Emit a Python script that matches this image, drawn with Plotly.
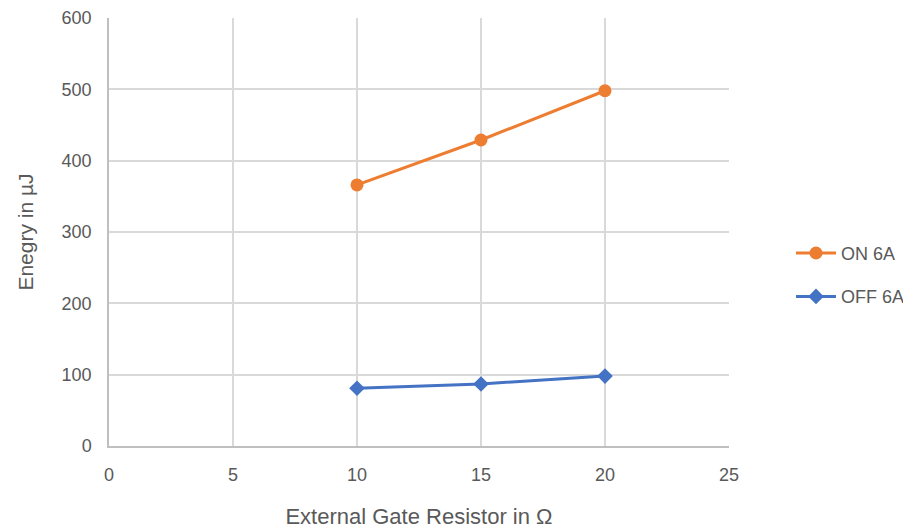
import plotly.graph_objects as go

resistor = [10, 15, 20]
on_6a = [366, 429, 498]
off_6a = [81, 87, 98]

fig = go.Figure()
fig.add_trace(go.Scatter(x=resistor, y=on_6a, name="ON 6A", mode="lines+markers",
                         legendgroup="on",
                         line=dict(color="#ED7D31", width=3),
                         marker=dict(symbol="circle", size=13, color="#ED7D31")))
fig.add_trace(go.Scatter(x=resistor, y=off_6a, name="OFF 6A", mode="lines+markers",
                         legendgroup="off",
                         line=dict(color="#4472C4", width=3),
                         marker=dict(symbol="diamond", size=12, color="#4472C4")))

font = dict(family="Liberation Sans, Arial, sans-serif", size=18, color="#595959")
fig.update_layout(
    width=903, height=522,
    margin=dict(l=101, r=182, t=10, b=84, autoexpand=False),
    paper_bgcolor="white", plot_bgcolor="white",
    font=font,
    showlegend=True,
    legend=dict(x=1.1, y=0.40, xanchor="left", yanchor="middle",
                font=dict(size=18, color="#595959"), tracegroupgap=17,
                itemwidth=40),
    xaxis=dict(range=[0, 25], dtick=5, tick0=0, showgrid=True, gridcolor="#D9D9D9",
               gridwidth=1.5, zeroline=False, showline=True, linecolor="#BFBFBF",
               linewidth=1.5, ticks="", ticklen=0, automargin=False,
               ticklabelstandoff=12,
               tickfont=dict(size=18)),
    yaxis=dict(range=[0, 600], dtick=100, tick0=0, showgrid=True, gridcolor="#D9D9D9",
               gridwidth=1.5, zeroline=False, showline=True, linecolor="#BFBFBF",
               linewidth=1.5, ticks="", automargin=False,
               ticklabelstandoff=12,
               tickfont=dict(size=18)),
)
fig.update_xaxes(title_text="External Gate Resistor in Ω", title_standoff=24,
                 title_font=dict(size=22, color="#595959",
                                 family="Liberation Sans, Arial, sans-serif"))
fig.update_yaxes(title_text="Enegry in µJ", title_standoff=22,
                 title_font=dict(size=21, color="#595959",
                                 family="Liberation Sans, Arial, sans-serif"))
fig.write_html("out.html")
